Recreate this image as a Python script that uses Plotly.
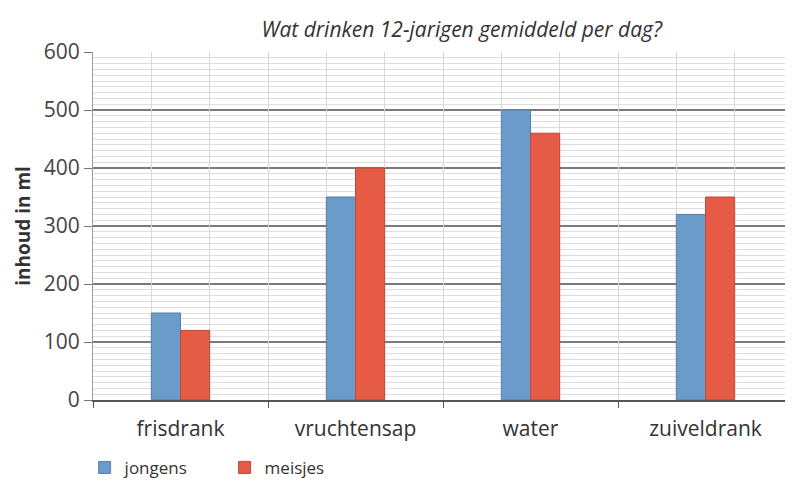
import plotly.graph_objects as go

categories = ["frisdrank", "vruchtensap", "water", "zuiveldrank"]
jongens = [150, 350, 500, 320]
meisjes = [120, 400, 460, 350]
series_names = ["jongens", "meisjes"]
title_text = "Wat drinken 12-jarigen gemiddeld per dag?"
y_title = "inhoud in ml"

BLUE = "#6b9bcb"
RED = "#e65b45"

fig = go.Figure()
fig.add_trace(go.Bar(x=categories, y=jongens, name=series_names[0],
                     marker=dict(color=BLUE, line=dict(color="#5a7fa6", width=1))))
fig.add_trace(go.Bar(x=categories, y=meisjes, name=series_names[1],
                     marker=dict(color=RED, line=dict(color="#b94a3a", width=1))))
# invisible trace on overlay axis for fine vertical grid
fig.add_trace(go.Scatter(x=[0, 12], y=[0, 0], xaxis="x2", mode="markers",
                         marker=dict(opacity=0), showlegend=False, hoverinfo="skip"))

fig.update_layout(
    width=785, height=476,
    margin=dict(l=85, r=0, t=44, b=84, autoexpand=False),
    paper_bgcolor="white", plot_bgcolor="white",
    barmode="group", bargap=0.6667, bargroupgap=0,
    font=dict(family="Open Sans", color="#333333"),
    title=dict(text=title_text, x=0.578, xanchor="center", y=0.954, yanchor="middle",
               font=dict(family="Open Sans", size=21, color="#333333", style="italic")),
    xaxis=dict(
        type="category", tickson="boundaries", showgrid=True, automargin=False,
        gridcolor="#8a8a8a", gridwidth=1,
        showline=True, linecolor="#555555", linewidth=2,
        ticks="outside", ticklen=6, tickcolor="#555555",
        tickfont=dict(size=21, color="#333333"), ticklabelstandoff=9,
        zeroline=False, range=[-0.5, 3.5],
    ),
    xaxis2=dict(
        overlaying="x", range=[0, 12], dtick=1, showgrid=True, automargin=False,
        gridcolor="#cfd9df", gridwidth=1, showticklabels=False,
        zeroline=False, showline=False, ticks="",
    ),
    yaxis=dict(
        range=[0, 600], dtick=100, showgrid=True, gridcolor="#7a7a7a", gridwidth=1.5,
        minor=dict(dtick=10, showgrid=True, gridcolor="#dedede", gridwidth=1),
        showline=True, linecolor="#9a9a9a", linewidth=1, automargin=False,
        ticks="outside", ticklen=8, tickcolor="#777777",
        tickfont=dict(size=21, color="#444444"),
        zeroline=False,
        title=dict(text="<b>" + y_title + "</b>", font=dict(size=19, color="#333333"), standoff=8),
    ),
    legend=dict(orientation="h", x=-0.012, xanchor="left", y=-0.195, yanchor="middle",
                font=dict(size=17, color="#333333"), itemwidth=30,
                entrywidth=95, entrywidthmode="pixels",
                traceorder="normal", bgcolor="rgba(0,0,0,0)"),
)

fig.write_html("out.html")
